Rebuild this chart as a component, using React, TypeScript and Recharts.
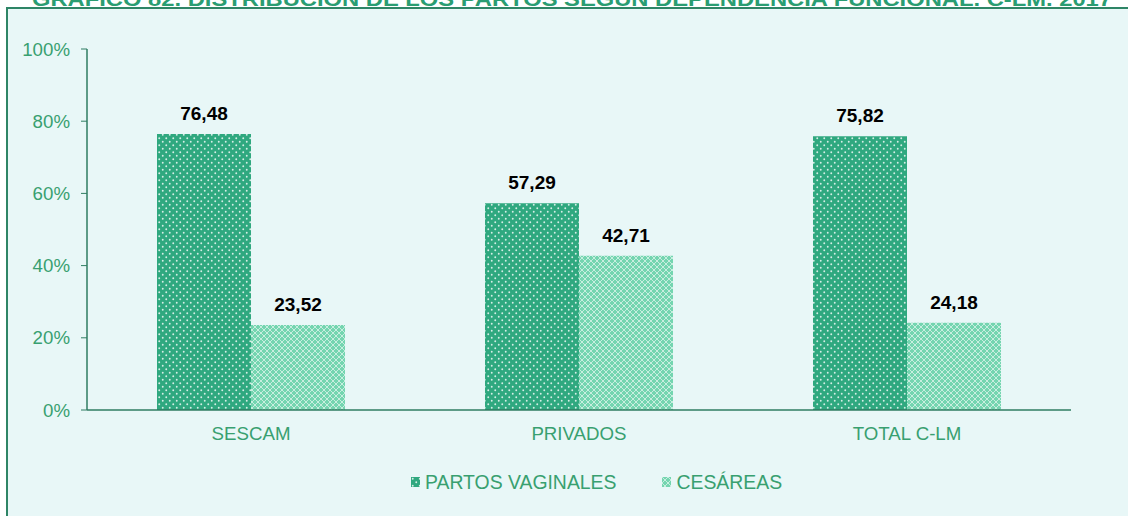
import { Bar, BarChart, LabelList, XAxis, YAxis } from "recharts";

const categories = ["SESCAM", "PRIVADOS", "TOTAL C-LM"];
const vaginales = [76.48, 57.29, 75.82];
const cesareas = [23.52, 42.71, 24.18];
const yTicks = [0, 20, 40, 60, 80, 100];
const seriesNames = ["PARTOS VAGINALES", "CESÁREAS"];
const title = "GRÁFICO 82. DISTRIBUCIÓN DE LOS PARTOS SEGÚN DEPENDENCIA FUNCIONAL. C-LM. 2017";

const data = categories.map((name, i) => ({ name, vaginales: vaginales[i], cesareas: cesareas[i] }));

const FONT = "'Liberation Sans', Arial, sans-serif";
const GREEN_TEXT = "#38a070";
const AXIS = "#2f7d62";

const fmt = (v: any) => Number(v).toFixed(2).replace(".", ",");

function Patterns() {
  return (
    <svg width={0} height={0} style={{ position: "absolute" }}>
      <defs>
        <pattern id="dots" width={7} height={7} patternUnits="userSpaceOnUse">
          <rect width={7} height={7} fill="#2fa87f" />
          <circle cx={1.75} cy={1.75} r={0.95} fill="#ffffff" opacity={0.8} />
          <circle cx={5.25} cy={5.25} r={0.95} fill="#ffffff" opacity={0.8} />
        </pattern>
        <pattern id="lattice" width={6} height={6} patternUnits="userSpaceOnUse">
          <rect width={6} height={6} fill="#74d5b0" />
          <path d="M0,0 L6,6 M6,0 L0,6" stroke="#ffffff" strokeWidth={1} opacity={0.6} />
        </pattern>
      </defs>
    </svg>
  );
}

export default function App() {
  return (
    <div style={{ position: "fixed", left: 0, top: 0, width: 1128, height: 516, background: "#ffffff", overflow: "hidden", fontFamily: FONT }}>
      <Patterns />
      <svg width={1128} height={10} style={{ position: "absolute", left: 0, top: 0 }}>
        <text x={32} y={6} fontSize={20} fontWeight="bold" fill="#2a9d72" fontFamily={FONT} textLength={1080} lengthAdjust="spacingAndGlyphs">
          {title}
        </text>
      </svg>
      <div
        style={{
          position: "absolute",
          left: 6,
          top: 7,
          width: 1200,
          height: 600,
          background: "#e8f7f7",
          borderLeft: "2px solid #2e8566",
          borderTop: "2px solid #2e8566",
        }}
      />
      <div style={{ position: "absolute", left: 0, top: 0 }}>
        <BarChart
          width={1128}
          height={516}
          data={data}
          margin={{ top: 49, right: 57, bottom: 76, left: 0 }}
          barCategoryGap={70}
          barGap={0}
        >
          <XAxis
            dataKey="name"
            height={30}
            axisLine={{ stroke: AXIS, strokeWidth: 1.5 }}
            tickLine={false}
            tickSize={6}
            tickMargin={11}
            tick={{ fill: GREEN_TEXT, fontSize: 18.7, fontFamily: FONT }}
          />
          <YAxis
            width={87}
            domain={[0, 100]}
            ticks={yTicks}
            interval={0}
            tickFormatter={(v) => `${v}%`}
            axisLine={{ stroke: AXIS, strokeWidth: 1.5 }}
            tickLine={{ stroke: AXIS }}
            tickSize={6}
            tickMargin={11}
            tick={{ fill: GREEN_TEXT, fontSize: 18.7, fontFamily: FONT }}
          />
          <Bar dataKey="vaginales" name={seriesNames[0]} fill="url(#dots)" isAnimationActive={false}>
            <LabelList dataKey="vaginales" position="top" offset={14} formatter={fmt} fill="#000000" fontSize={19} fontWeight="bold" fontFamily={FONT} />
          </Bar>
          <Bar dataKey="cesareas" name={seriesNames[1]} fill="url(#lattice)" isAnimationActive={false}>
            <LabelList dataKey="cesareas" position="top" offset={14} formatter={fmt} fill="#000000" fontSize={19} fontWeight="bold" fontFamily={FONT} />
          </Bar>
        </BarChart>
      </div>
      <div style={{ position: "absolute", left: 411, top: 471, display: "flex", alignItems: "center", fontSize: 19.4, color: GREEN_TEXT, lineHeight: "22px" }}>
        <svg width={9} height={10} style={{ marginRight: 5 }}>
          <rect width={9} height={10} fill="url(#dots)" />
        </svg>
        <span>{seriesNames[0]}</span>
        <svg width={9} height={10} style={{ marginLeft: 46, marginRight: 5 }}>
          <rect width={9} height={10} fill="url(#lattice)" />
        </svg>
        <span>{seriesNames[1]}</span>
      </div>
    </div>
  );
}
